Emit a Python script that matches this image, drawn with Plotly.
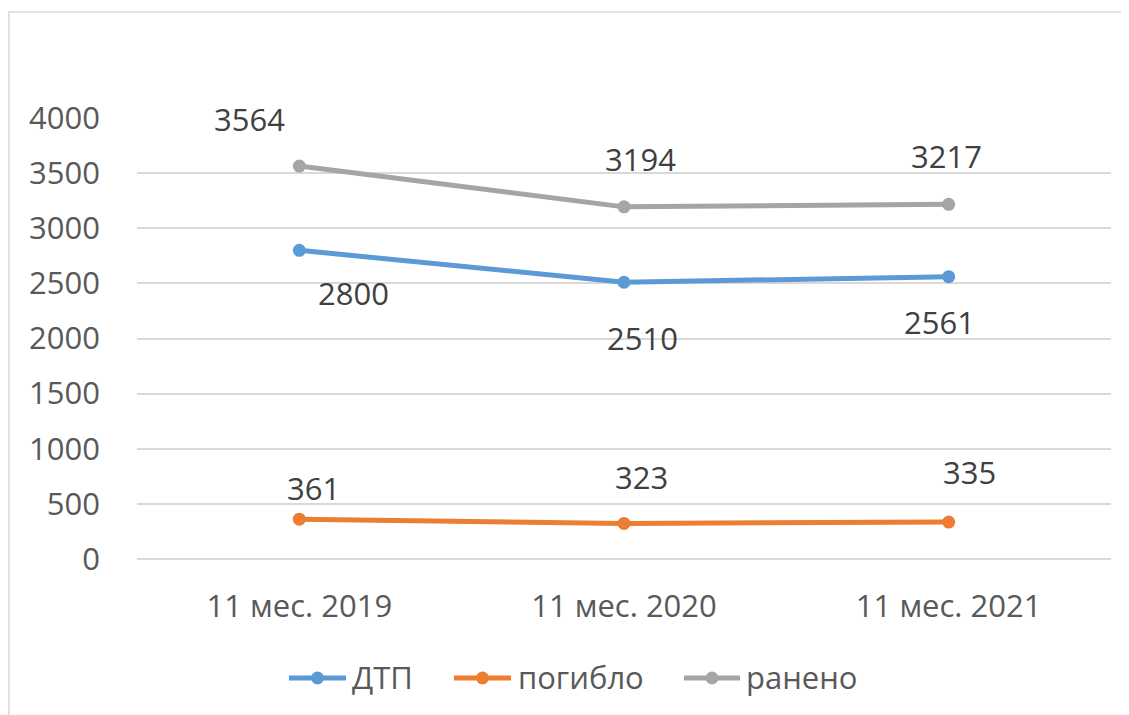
import plotly.graph_objects as go

categories = ["11 мес. 2019", "11 мес. 2020", "11 мес. 2021"]
dtp = [2800, 2510, 2561]
pogiblo = [361, 323, 335]
raneno = [3564, 3194, 3217]
y_ticks = [0, 500, 1000, 1500, 2000, 2500, 3000, 3500, 4000]

FONT = "Open Sans"
TXT = "#404040"
AX = "#595959"

# plot area in page pixels
PL, PR, PT, PB = 137, 1111, 118, 559
def px(sx):
    return (sx - PL) / (PR - PL)
def py(sy):
    return (PB - sy) / (PB - PT)

fig = go.Figure()
series = [("ДТП", dtp, "#5B9BD5"), ("погибло", pogiblo, "#ED7D31"), ("ранено", raneno, "#A5A5A5")]
for name, vals, col in series:
    fig.add_trace(go.Scatter(x=categories, y=vals, name=name, mode="lines+markers", showlegend=False,
                             line=dict(color=col, width=5), marker=dict(color=col, size=13)))

# label pixel offsets (dx, dy up-positive)
offsets = {
    "ДТП": [(54, -43), (18, -56), (-9, -45)],
    "погибло": [(14, 31), (17, 46), (21, 50)],
    "ранено": [(-50, 47), (16, 48), (-2, 48)],
}
for name, vals, col in series:
    for i, v in enumerate(vals):
        dx, dy = offsets[name][i]
        fig.add_annotation(x=categories[i], y=v, text=str(v), showarrow=False,
                           xshift=dx, yshift=dy, font=dict(family=FONT, size=31, color=TXT))

# custom legend
leg_y = 678
leg_items = [(289, 346, 350), (454, 511, 516), (684, 740, 744)]
for (name, vals, col), (l0, l1, t0) in zip(series, leg_items):
    fig.add_shape(type="line", xref="paper", yref="paper", x0=px(l0), x1=px(l1), y0=py(leg_y), y1=py(leg_y),
                  line=dict(color=col, width=5))
    fig.add_shape(type="circle", xref="paper", yref="paper", xsizemode="pixel", ysizemode="pixel",
                  xanchor=px((l0 + l1) / 2), yanchor=py(leg_y), x0=-6.5, x1=6.5, y0=-6.5, y1=6.5,
                  fillcolor=col, line=dict(color=col, width=0))
    fig.add_annotation(xref="paper", yref="paper", x=px(t0), y=py(leg_y - 1), xanchor="left", yanchor="middle",
                       text=name, showarrow=False, font=dict(family=FONT, size=31, color=AX))

fig.add_shape(type="rect", xref="paper", yref="paper", x0=px(9), x1=1.2, y0=-0.6, y1=py(12),
              line=dict(color="#d9d9d9", width=1.5), fillcolor="rgba(0,0,0,0)", layer="below")

fig.update_layout(
    width=1121, height=707,
    margin=dict(l=129, r=18, t=110, b=156),
    paper_bgcolor="white", plot_bgcolor="white",
    showlegend=False,
    font=dict(family=FONT, size=31, color=AX),
)
fig.update_xaxes(type="category", range=[-0.5, 2.5], showgrid=False, zeroline=False,
                 showline=False, ticks="", ticklabelstandoff=26,
                 tickfont=dict(family=FONT, size=31, color=AX))
fig.update_yaxes(range=[0, 4000], tickvals=y_ticks, showgrid=True, gridcolor="#d9d9d9", gridwidth=1.5,
                 zeroline=True, zerolinecolor="#d9d9d9", zerolinewidth=1.5, showline=False, ticks="",
                 ticklabelstandoff=36, tickfont=dict(family=FONT, size=31, color=AX))

fig.write_html("out.html")
